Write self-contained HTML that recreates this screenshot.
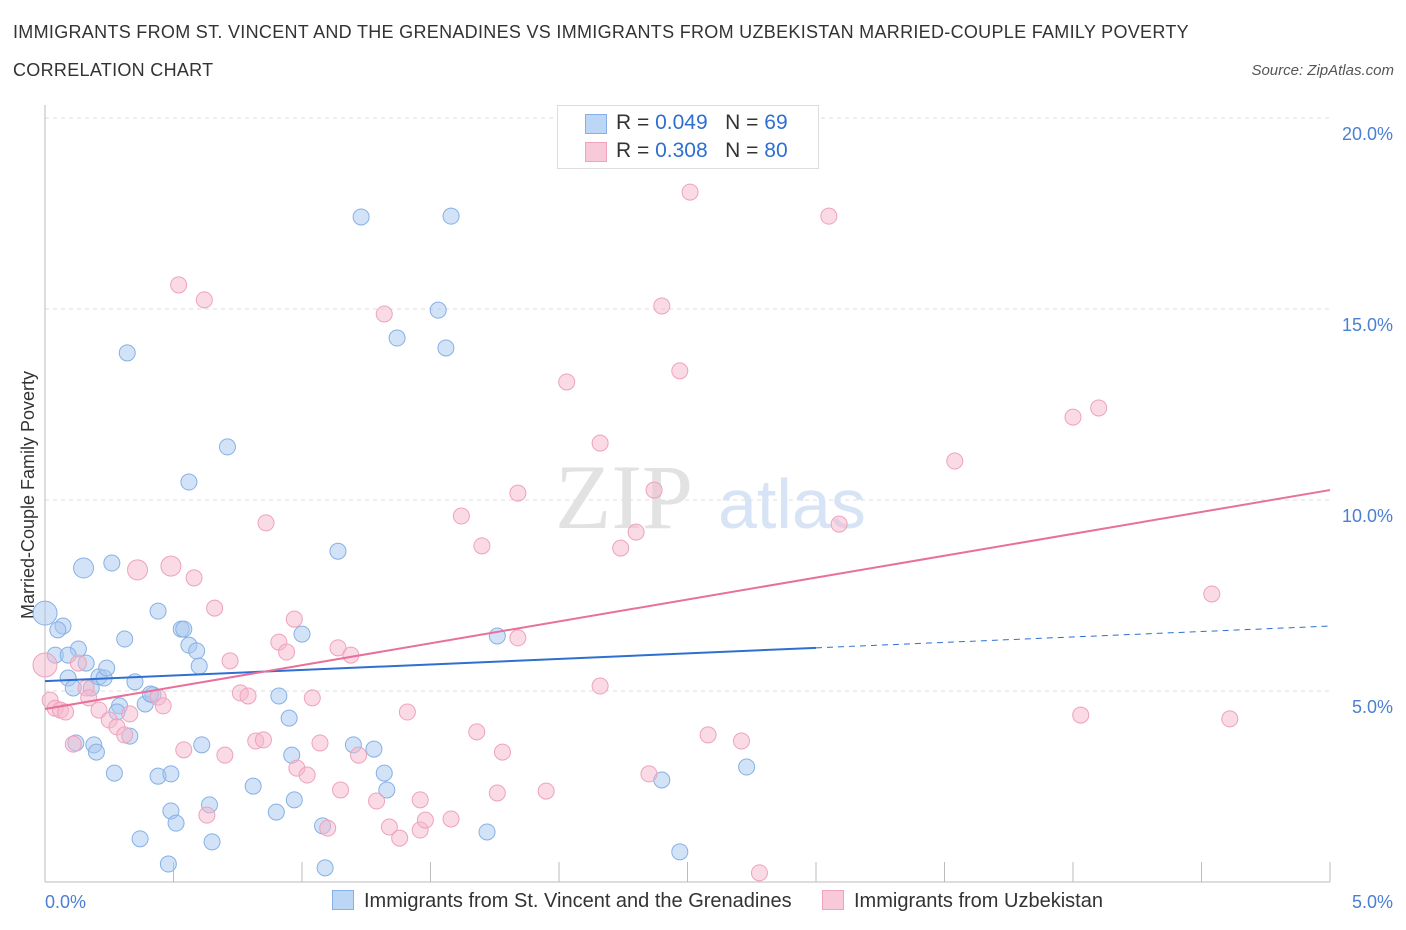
<!DOCTYPE html>
<html><head><meta charset="utf-8"><style>
body{margin:0;background:#fff;font-family:"Liberation Sans",sans-serif;}
#wrap{position:relative;width:1406px;height:930px;overflow:hidden;}
.t{position:absolute;white-space:nowrap;}
</style></head><body>
<div id="wrap">
<div class="t" style="left:13px;top:22px;font-size:18px;letter-spacing:0.3px;color:#333;">IMMIGRANTS FROM ST. VINCENT AND THE GRENADINES VS IMMIGRANTS FROM UZBEKISTAN MARRIED-COUPLE FAMILY POVERTY</div>
<div class="t" style="left:13px;top:60px;font-size:18px;letter-spacing:0.3px;color:#333;">CORRELATION CHART</div>
<div class="t" style="right:12px;top:62px;font-size:15px;color:#555;font-style:italic;">Source: ZipAtlas.com</div>
<svg id="svg" width="1406" height="930" style="position:absolute;left:0;top:0"></svg>
</div>
<script>
const xTicks=[0,5];
const yTicks=[5,10,15,20];
const blueX=[0.00,0.04,0.07,0.05,0.09,0.11,0.13,0.15,0.16,0.18,0.19,0.20,0.21,0.23,0.24,0.26,0.27,0.29,0.31,0.32,0.33,0.35,0.37,0.39,0.42,0.44,0.44,0.48,0.49,0.49,0.51,0.53,0.54,0.56,0.56,0.59,0.60,0.61,0.64,0.65,0.71,0.81,0.90,0.91,0.95,0.96,0.97,1.00,1.08,1.09,1.14,1.20,1.23,1.28,1.32,1.33,1.37,1.53,1.56,1.58,1.72,1.76,2.40,2.47,2.73,0.28,0.41,0.09,0.12];
const blueY=[7.04,5.94,6.70,6.60,5.34,5.08,6.10,8.22,5.73,5.08,3.59,3.40,5.37,5.34,5.60,8.35,2.85,4.61,6.36,13.85,3.82,5.24,1.13,4.66,4.90,7.09,2.77,0.47,2.83,1.86,1.54,6.62,6.62,10.47,6.20,6.05,5.65,3.59,2.02,1.05,11.39,2.51,1.83,4.87,4.29,3.32,2.15,6.49,1.47,0.37,8.66,3.59,17.41,3.48,2.85,2.41,14.24,14.97,13.98,17.43,1.31,6.44,2.67,0.79,3.01,4.45,4.92,5.94,3.64];
const pinkX=[0.00,0.02,0.04,0.06,0.08,0.11,0.13,0.16,0.17,0.21,0.25,0.28,0.31,0.33,0.36,0.44,0.46,0.49,0.52,0.54,0.58,0.62,0.63,0.66,0.70,0.72,0.76,0.79,0.82,0.85,0.86,0.91,0.94,0.97,0.98,1.02,1.04,1.07,1.10,1.14,1.15,1.19,1.22,1.29,1.32,1.34,1.38,1.46,1.46,1.48,1.41,1.58,1.62,1.68,1.70,1.76,1.78,1.84,1.84,1.95,2.03,2.16,2.16,2.24,2.30,2.35,2.37,2.40,2.47,2.51,2.58,2.71,2.78,3.05,3.09,3.54,4.00,4.10,4.03,4.54,4.61];
const pinkY=[5.68,4.76,4.55,4.50,4.45,3.61,5.73,5.08,4.82,4.50,4.24,4.06,3.85,4.40,8.17,4.84,4.61,8.27,15.63,3.46,7.96,15.24,1.75,7.17,3.32,5.79,4.95,4.87,3.69,3.72,9.40,6.28,6.02,6.88,2.98,2.80,4.82,3.64,1.41,6.13,2.41,5.94,3.32,2.12,14.87,1.44,1.15,1.36,2.15,1.62,4.45,1.65,9.58,3.93,8.80,2.33,3.40,10.18,6.39,2.38,13.09,11.49,5.13,8.74,9.16,2.83,10.26,15.08,13.38,18.06,3.85,3.69,0.24,17.43,9.37,11.02,12.17,12.41,4.37,7.54,4.27];
const blueTrend=[5.26,6.13,6.70]; // at x=0, 3, 5
const pinkTrend=[4.53,10.26];     // at x=0, 5
const X=v=>45+v*257, Y=v=>882-v*38.2;
const svg=document.getElementById('svg');const NS='http://www.w3.org/2000/svg';
function mk(tag,attrs,parent){const e=document.createElementNS(NS,tag);for(const k in attrs)e.setAttribute(k,attrs[k]);(parent||svg).appendChild(e);return e;}
yTicks.forEach(v=>{
 const g=mk('line',{x1:45,x2:1330,y1:Y(v),y2:Y(v),stroke:'#ddd','stroke-dasharray':'4,4'});
 
 
 const t=mk('text',{x:1393,y:Y(v)+22,'text-anchor':'end','font-size':18,fill:'#4a7fd4','font-family':'Liberation Sans'});
 t.textContent=v.toFixed(1)+'%';
 
 
});
const ya=mk('line',{x1:45,x2:45,y1:105,y2:882,stroke:'#bbb'});


const xa=mk('line',{x1:45,x2:1330,y1:882,y2:882,stroke:'#bbb'});


for(let i=0;i<=10;i++){const tk=mk('line',{x1:X(i*0.5),x2:X(i*0.5),y1:862,y2:882,stroke:'#bbb'});
 
 }
xTicks.forEach(v=>{const t=mk('text',{x:v===0?45:1393,y:908,'text-anchor':v===0?'start':'end','font-size':18,fill:'#4a7fd4','font-family':'Liberation Sans'});
 t.textContent=v.toFixed(1)+'%';
 
 });
const yl=mk('text',{x:0,y:0,transform:'translate(34,495) rotate(-90)','text-anchor':'middle','font-size':18,fill:'#333','font-family':'Liberation Sans'});
yl.textContent='Married-Couple Family Poverty';


const wm=mk('text',{x:555,y:528,'font-size':92,fill:'#e2e2e2','font-family':'Liberation Serif'});wm.textContent='ZIP';


const wm2=mk('text',{x:718,y:528,'font-size':70,fill:'#d6e4f5','font-family':'Liberation Sans'});wm2.textContent='atlas';


blueX.forEach((x,i)=>{const c=mk('circle',{cx:X(x),cy:Y(blueY[i]),r:(i===0?12:(i===7?10:8)),fill:'rgba(168,200,240,0.5)',stroke:'#86b0e6','stroke-width':1});
 
 });
pinkX.forEach((x,i)=>{const c=mk('circle',{cx:X(x),cy:Y(pinkY[i]),r:(i===0?12:(i===14||i===17?10:8)),fill:'rgba(246,184,204,0.5)',stroke:'#eea2bb','stroke-width':1});
 
 });
const bl=mk('line',{x1:X(0),y1:Y(blueTrend[0]),x2:X(3),y2:Y(blueTrend[1]),stroke:'#2f6fd0','stroke-width':2});


const bd=mk('line',{x1:X(3),y1:Y(blueTrend[1]),x2:X(5),y2:Y(blueTrend[2]),stroke:'#2f6fd0','stroke-width':1,'stroke-dasharray':'6,5'});


const pl=mk('line',{x1:X(0),y1:Y(pinkTrend[0]),x2:X(5),y2:Y(pinkTrend[1]),stroke:'#e8709a','stroke-width':2});


</script>
<div class="t" style="left:557px;top:105px;width:260px;height:62px;border:1px solid #ddd;background:#fff;font-size:21px;color:#333;">
 <div style="position:absolute;left:27px;top:8px;width:20px;height:18px;background:#bcd6f6;border:1px solid #86b0e6"></div>
 <div style="position:absolute;left:58px;top:5px;">R = <span style="color:#2f6fd0">0.049</span>&nbsp;&nbsp;&nbsp;N = <span style="color:#2f6fd0">69</span></div>
 <div style="position:absolute;left:27px;top:36px;width:20px;height:18px;background:#f8c9d8;border:1px solid #eea2bb"></div>
 <div style="position:absolute;left:58px;top:33px;">R = <span style="color:#2f6fd0">0.308</span>&nbsp;&nbsp;&nbsp;N = <span style="color:#2f6fd0">80</span></div>
</div>
<div class="t" style="left:332px;top:890px;font-size:20px;color:#333;"><span style="display:inline-block;width:20px;height:18px;background:#bcd6f6;border:1px solid #86b0e6;vertical-align:-3px;margin-right:10px"></span>Immigrants from St. Vincent and the Grenadines</div>
<div class="t" style="left:822px;top:890px;font-size:20px;color:#333;"><span style="display:inline-block;width:20px;height:18px;background:#f8c9d8;border:1px solid #eea2bb;vertical-align:-3px;margin-right:10px"></span>Immigrants from Uzbekistan</div>
</body></html>
